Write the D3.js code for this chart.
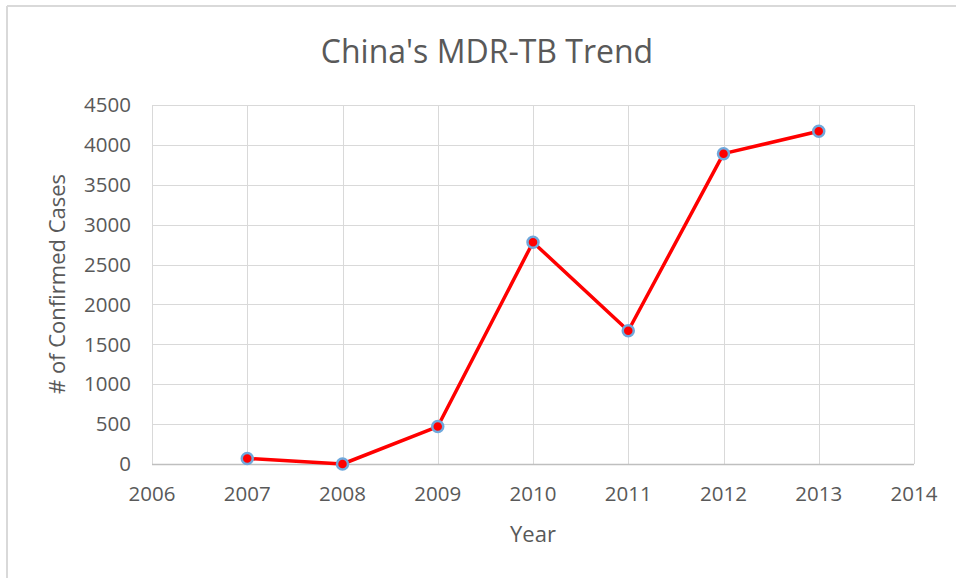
<!DOCTYPE html>
<html>
<head>
<meta charset="utf-8">
<script src="https://cdn.jsdelivr.net/npm/d3@7"></script>
<style>
  body { margin: 0; background: #fff; }
  text { font-family: "Open Sans", sans-serif; fill: #595959; }
</style>
</head>
<body>
<svg id="chart" width="956" height="578"></svg>
<script>
// chart data
var years = [2007, 2008, 2009, 2010, 2011, 2012, 2013];
var cases = [70, 0, 470, 2780, 1670, 3890, 4170];
var xTicks = [2006, 2007, 2008, 2009, 2010, 2011, 2012, 2013, 2014];
var yTicks = [0, 500, 1000, 1500, 2000, 2500, 3000, 3500, 4000, 4500];

var svg = d3.select('#chart');

// outer frame (only top and left visible in the crop)
svg.append('line').attr('x1', 7).attr('x2', 956).attr('y1', 6).attr('y2', 6)
  .attr('stroke', '#d9d9d9').attr('stroke-width', 2);
svg.append('line').attr('x1', 7).attr('x2', 7).attr('y1', 6).attr('y2', 578)
  .attr('stroke', '#d9d9d9').attr('stroke-width', 2);

var x = d3.scaleLinear().domain([2006, 2014]).range([152, 914]);
var y = d3.scaleLinear().domain([0, 4500]).range([464, 105]);

// gridlines
svg.append('g').selectAll('line').data(yTicks).join('line')
  .attr('x1', 152).attr('x2', 914)
  .attr('y1', function(d) { return Math.round(y(d)) + 0.5; })
  .attr('y2', function(d) { return Math.round(y(d)) + 0.5; })
  .attr('stroke', '#d9d9d9').attr('stroke-width', 1);

svg.append('g').selectAll('line').data(xTicks).join('line')
  .attr('x1', function(d) { return Math.round(x(d)) + 0.5; })
  .attr('x2', function(d) { return Math.round(x(d)) + 0.5; })
  .attr('y1', 105).attr('y2', 464)
  .attr('stroke', '#d9d9d9').attr('stroke-width', 1);

// bottom axis line
svg.append('line').attr('x1', 152).attr('x2', 914)
  .attr('y1', Math.round(y(0)) + 0.5).attr('y2', Math.round(y(0)) + 0.5)
  .attr('stroke', '#bfbfbf').attr('stroke-width', 1.5);

// tick labels
svg.append('g').selectAll('text').data(yTicks).join('text')
  .attr('x', 131).attr('y', function(d) { return y(d); })
  .attr('dy', '0.35em').attr('text-anchor', 'end')
  .style('font-size', '20.5px')
  .text(function(d) { return d; });

svg.append('g').selectAll('text').data(xTicks).join('text')
  .attr('x', function(d) { return x(d); }).attr('y', 494)
  .attr('dy', '0.35em').attr('text-anchor', 'middle')
  .style('font-size', '20.5px')
  .text(function(d) { return d; });

// titles
svg.append('text').attr('x', 487).attr('y', 52).attr('dy', '0.35em')
  .attr('text-anchor', 'middle').style('font-size', '32px')
  .text("China's MDR-TB Trend");

svg.append('text').attr('x', 533).attr('y', 534).attr('dy', '0.35em')
  .attr('text-anchor', 'middle').style('font-size', '22px')
  .text('Year');

svg.append('text')
  .attr('transform', 'translate(57,284) rotate(-90)')
  .attr('dy', '0.35em').attr('text-anchor', 'middle').style('font-size', '22px')
  .text('# of Confirmed Cases');

// series line
var line = d3.line()
  .x(function(d, i) { return x(years[i]); })
  .y(function(d) { return y(d); });

svg.append('path').datum(cases)
  .attr('d', line)
  .attr('fill', 'none').attr('stroke', '#ff0000').attr('stroke-width', 3.5)
  .attr('stroke-linejoin', 'round');

svg.append('g').selectAll('circle').data(cases).join('circle')
  .attr('cx', function(d, i) { return x(years[i]); })
  .attr('cy', function(d) { return y(d); })
  .attr('r', 5.5)
  .attr('fill', '#ff0000')
  .attr('stroke', '#6fa8dc').attr('stroke-width', 2.5);
</script>
</body>
</html>
